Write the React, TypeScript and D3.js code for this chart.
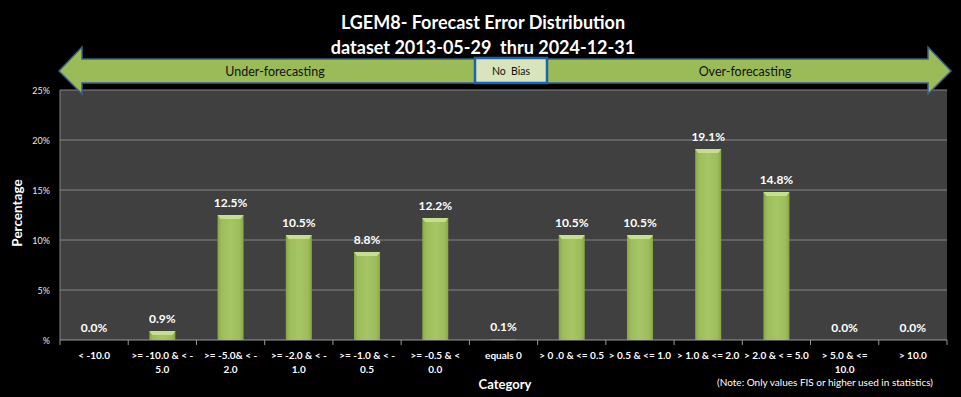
import React from "react";
import * as d3 from "d3";

const categories: string[][] = [
  ["< -10.0"],
  [">= -10.0 & < -", "5.0"],
  [">= -5.0& < -", "2.0"],
  [">= -2.0 & < -", "1.0"],
  [">= -1.0 & < -", "0.5"],
  [">= -0.5 & <", "0.0"],
  ["equals 0"],
  ["> 0 .0 & <= 0.5"],
  ["> 0.5 & <= 1.0"],
  ["> 1.0 & <= 2.0"],
  ["> 2.0 & < = 5.0"],
  ["> 5.0 & <=", "10.0"],
  ["> 10.0"],
];
const values: number[] = [0.0, 0.9, 12.5, 10.5, 8.8, 12.2, 0.1, 10.5, 10.5, 19.1, 14.8, 0.0, 0.0];
const yTicks: number[] = [0, 5, 10, 15, 20, 25];
const titleLines: string[] = ["LGEM8- Forecast Error Distribution", "dataset 2013-05-29  thru 2024-12-31"];

const W = 961;
const H = 397;
const FONT = "Lato, 'Open Sans', sans-serif";

export default function App() {
  const left = 60, right = 947, top = 90, bottom = 340;
  const x = d3.scaleBand<number>().domain(d3.range(values.length)).range([left, right]).paddingInner(0).paddingOuter(0);
  const y = d3.scaleLinear().domain([0, 25]).range([bottom, top]);
  const bw = 26;

  // arrow geometry
  const aTipL = 59, aTipR = 951, aBackL = 82, aBackR = 928;
  const aMid = 71, aHeadTop = 47, aHeadBot = 94, sTop = 59, sBot = 83;
  const arrowPath = [
    [aTipL, aMid], [aBackL, aHeadTop], [aBackL, sTop], [aBackR, sTop], [aBackR, aHeadTop],
    [aTipR, aMid], [aBackR, aHeadBot], [aBackR, sBot], [aBackL, sBot], [aBackL, aHeadBot],
  ];
  const line = d3.line();

  return (
    <svg width={W} height={H} style={{ position: "absolute", left: 0, top: 0, background: "#000", whiteSpace: "pre" }}>
      <defs>
        <linearGradient id="barg" x1="0" x2="1" y1="0" y2="0">
          <stop offset="0" stopColor="#86A746" />
          <stop offset="0.15" stopColor="#9DBD5B" />
          <stop offset="0.5" stopColor="#A6C566" />
          <stop offset="0.85" stopColor="#9DBD5B" />
          <stop offset="1" stopColor="#86A746" />
        </linearGradient>
      </defs>
      <rect x={0} y={0} width={W} height={H} fill="#000" />
      {/* title */}
      {titleLines.map((t, i) => (
        <text key={i} x={483} y={29 + i * 25} textAnchor="middle" fill="#fff" fontFamily={FONT}
          fontWeight="bold" fontSize={18} style={{ whiteSpace: "pre" }}>{t}</text>
      ))}
      {/* plot area */}
      <rect x={left} y={top} width={right - left} height={bottom - top} fill="#404040" />
      {yTicks.map((t) => (
        <g key={t}>
          {t > 0 && <line x1={left} x2={right} y1={y(t)} y2={y(t)} stroke="#858585" strokeWidth={1} />}
          <text x={50} y={y(t) + 3.5} textAnchor="end" fill="#e8e8e8" fontFamily={FONT} fontSize={9}>
            {t === 0 ? "%" : `${t}%`}
          </text>
        </g>
      ))}
      <line x1={left} x2={left} y1={top} y2={bottom} stroke="#858585" />
      <line x1={left} x2={right} y1={bottom} y2={bottom} stroke="#9a9a9a" />
      {d3.range(values.length + 1).map((i) => {
        const xx = i < values.length ? x(i)! : right;
        return <line key={i} x1={xx} x2={xx} y1={bottom} y2={bottom + 5} stroke="#9a9a9a" />;
      })}
      {/* bars */}
      {values.map((v, i) => {
        const cx = x(i)! + x.bandwidth() / 2;
        const x0 = cx - bw / 2;
        const yt = y(v);
        const h = bottom - yt;
        const bev = Math.min(4, h);
        return (
          <g key={i}>
            {h > 0 && (
              <>
                <rect x={x0} y={yt} width={bw} height={h} fill={i === 6 ? "#8c8c8c" : "url(#barg)"} />
                {i !== 6 && (
                  <polygon
                    points={`${x0},${yt} ${x0 + bw},${yt} ${x0 + bw - 3},${yt + bev} ${x0 + 3},${yt + bev}`}
                    fill="#C6DE93"
                  />
                )}
              </>
            )}
            <text x={cx} y={yt - 8} textAnchor="middle" fill="#fff" fontFamily={FONT} fontWeight="bold" fontSize={12}>
              {v.toFixed(1)}%
            </text>
            {categories[i].map((ln, j) => (
              <text key={j} x={cx} y={359 + j * 14} textAnchor="middle" fill="#fff" fontFamily={FONT}
                fontWeight="bold" fontSize={10}>{ln}</text>
            ))}
          </g>
        );
      })}
      {/* arrow */}
      <path d={line(arrowPath as [number, number][])! + "Z"} fill="#9BBB59" stroke="#3B5F8A" strokeWidth={1.5} />
      <rect x={475} y={58} width={72} height={25} fill="#D7E4BD" stroke="#1F64A8" strokeWidth={2.5} />
      <text x={511} y={75} textAnchor="middle" fill="#111" fontFamily={FONT} fontSize={10.5} style={{ whiteSpace: "pre" }}>No  Bias</text>
      <text x={275} y={76} textAnchor="middle" fill="#111" fontFamily={FONT} fontSize={12.5}>Under-forecasting</text>
      <text x={745} y={76} textAnchor="middle" fill="#111" fontFamily={FONT} fontSize={12.5}>Over-forecasting</text>
      {/* axis titles */}
      <text transform={`translate(22,${(top + bottom) / 2 - 2}) rotate(-90)`} textAnchor="middle" fill="#fff"
        fontFamily={FONT} fontWeight="bold" fontSize={13.5}>Percentage</text>
      <text x={505} y={389} textAnchor="middle" fill="#fff" fontFamily={FONT} fontWeight="bold" fontSize={13}>Category</text>
      <text x={825} y={386} textAnchor="middle" fill="#fff" fontFamily={FONT} fontSize={10}>
        (Note: Only values FIS or higher used in statistics)
      </text>
    </svg>
  );
}
